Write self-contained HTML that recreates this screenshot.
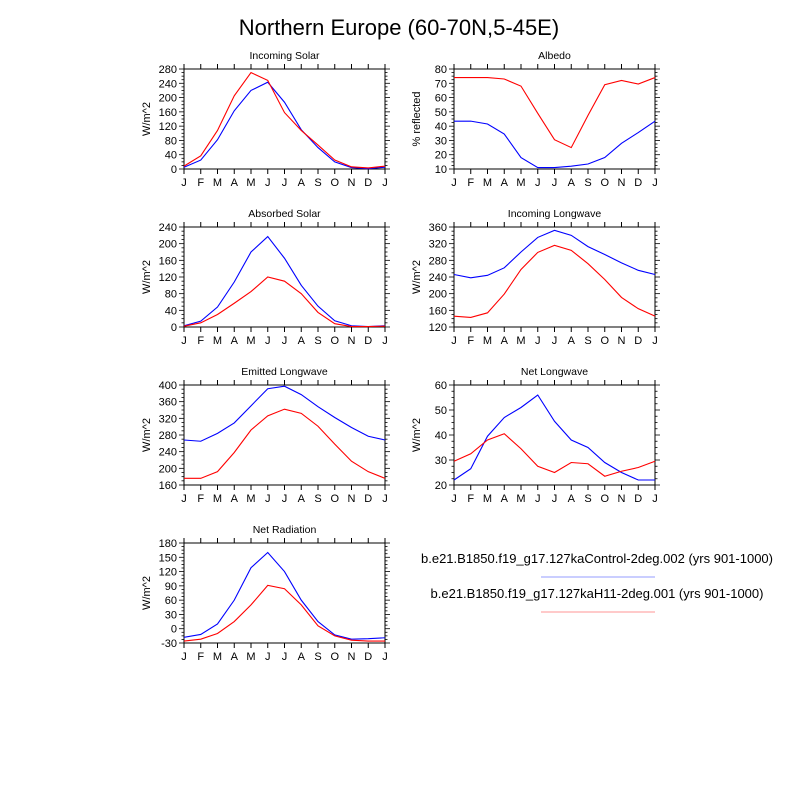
<!DOCTYPE html>
<html><head><meta charset="utf-8"><style>
html,body{margin:0;padding:0;background:#fff;}
svg{display:block;font-family:"Liberation Sans",sans-serif;}
</style></head><body>
<svg id="chart" width="800" height="800" viewBox="0 0 800 800" xmlns="http://www.w3.org/2000/svg">
<rect width="800" height="800" fill="#fff"/>
<text x="399" y="35" font-size="22" text-anchor="middle">Northern Europe (60-70N,5-45E)</text>
<g id="panels"></g>
<g>
<text x="597" y="563" font-size="13" text-anchor="middle">b.e21.B1850.f19_g17.127kaControl-2deg.002 (yrs 901-1000)</text>
<line x1="541" y1="577" x2="655" y2="577" stroke="#aab0ff" stroke-width="1.2"/>
<text x="597" y="598" font-size="13" text-anchor="middle">b.e21.B1850.f19_g17.127kaH11-2deg.001 (yrs 901-1000)</text>
<line x1="541" y1="612" x2="655" y2="612" stroke="#ffaaaa" stroke-width="1.2"/>
</g>
</svg>
<script>
const months = ["J","F","M","A","M","J","J","A","S","O","N","D","J"];
const titles = ["Incoming Solar","Albedo","Absorbed Solar","Incoming Longwave","Emitted Longwave","Net Longwave","Net Radiation"];
const yTitles = ["W/m^2","% reflected","W/m^2","W/m^2","W/m^2","W/m^2","W/m^2"];
const yMin = [0,10,0,120,160,20,-30];
const yMax = [280,80,240,360,400,60,180];
const yStep = [40,10,40,40,40,10,30];
const solarCtl = [5,25,82,163,220,243,187,110,60,20,4,1,5];
const solarH11 = [8,37,108,205,270,248,158,108,67,25,6,3,8];
const albedoCtl = [43.5,43.5,41.5,34.5,18,11,11,12,13.5,18,28,35.5,43.5];
const albedoH11 = [74,74,74,73,68,49,30.5,25,47.5,69,72,69.5,74];
const absCtl = [3,14,48,108,180,217,165,100,50,15,3,1,3];
const absH11 = [2,10,30,57,85,120,110,80,35,8,1,1,2];
const lwInCtl = [246,238,244,262,300,335,352,340,313,294,274,256,246];
const lwInH11 = [146,143,154,199,258,299,316,304,272,234,191,164,146];
const lwOutCtl = [268,265,284,309,350,391,397,377,348,322,298,277,268];
const lwOutH11 = [176,176,192,238,292,326,342,332,301,258,217,192,176];
const netLwCtl = [22,26.5,39.5,47,51,56,45.5,38,35,29,25,22,22];
const netLwH11 = [29.5,32.5,38,40.5,34.5,27.5,25,29,28.5,23.5,25.5,27,29.5];
const netRadCtl = [-18,-12,10,60,128,160,120,60,15,-13,-22,-21,-19];
const netRadH11 = [-26,-22,-10,15,50,91,84,50,6,-15,-24,-26,-26];
const ctlSeries = [solarCtl,albedoCtl,absCtl,lwInCtl,lwOutCtl,netLwCtl,netRadCtl];
const h11Series = [solarH11,albedoH11,absH11,lwInH11,lwOutH11,netLwH11,netRadH11];

const NS="http://www.w3.org/2000/svg";
const root=document.getElementById("panels");
function mk(tag,attrs,parent){const e=document.createElementNS(NS,tag);for(const k in attrs)e.setAttribute(k,attrs[k]);parent.appendChild(e);return e;}
const W=201,H=100;
const lefts=[184,454], tops=[69,227,385,543];
titles.forEach((t,i)=>{
  const x0=lefts[i%2], y0=tops[Math.floor(i/2)];
  const g=mk("g",{},root);
  
  
  const xs=k=>x0+k*W/12;
  const ys=v=>y0+H-(v-yMin[i])/(yMax[i]-yMin[i])*H;
  const frame=mk("rect",{x:x0,y:y0,width:W,height:H,fill:"none",stroke:"#000","stroke-width":1},g);
  
  
  const tt=mk("text",{x:x0+W/2,y:y0-10,"font-size":10.5,"text-anchor":"middle"},g);
  tt.textContent=t;
  
  
  const yt=mk("text",{x:0,y:0,"font-size":11,"text-anchor":"middle",transform:`translate(${x0-34},${y0+H/2}) rotate(-90)`},g);
  yt.textContent=yTitles[i];
  
  
  months.forEach((m,k)=>{
    const x=xs(k);
    mk("line",{x1:x,y1:y0+H,x2:x,y2:y0+H+5,stroke:"#000"},g);
    mk("line",{x1:x,y1:y0,x2:x,y2:y0-5,stroke:"#000"},g);
    const l=mk("text",{x:x,y:y0+H+17,"font-size":11,"text-anchor":"middle"},g);
    l.textContent=m;
    
    
  });
  const minor=yStep[i]/4;
  for(let v=yMin[i];v<=yMax[i]+1e-9;v+=minor){
    const y=ys(v);
    const major=Math.abs(((v-yMin[i])/yStep[i])-Math.round((v-yMin[i])/yStep[i]))<1e-6;
    const len=major?5:2.5;
    mk("line",{x1:x0,y1:y,x2:x0-len,y2:y,stroke:"#000","stroke-width":0.8},g);
    mk("line",{x1:x0+W,y1:y,x2:x0+W+len,y2:y,stroke:"#000","stroke-width":0.8},g);
    if(major){
      const l=mk("text",{x:x0-7,y:y+4,"font-size":11,"text-anchor":"end"},g);
      l.textContent=String(Math.round(v));
      
      
    }
  }
  [[ctlSeries[i],"#0000ff","control"],[h11Series[i],"#ff0000","h11"]].forEach(([d,c,n])=>{
    const p=mk("polyline",{points:d.map((v,k)=>xs(k)+","+ys(v)).join(" "),fill:"none",stroke:c,"stroke-width":1.1},g);
    
    
  });
});
</script>
</body></html>
